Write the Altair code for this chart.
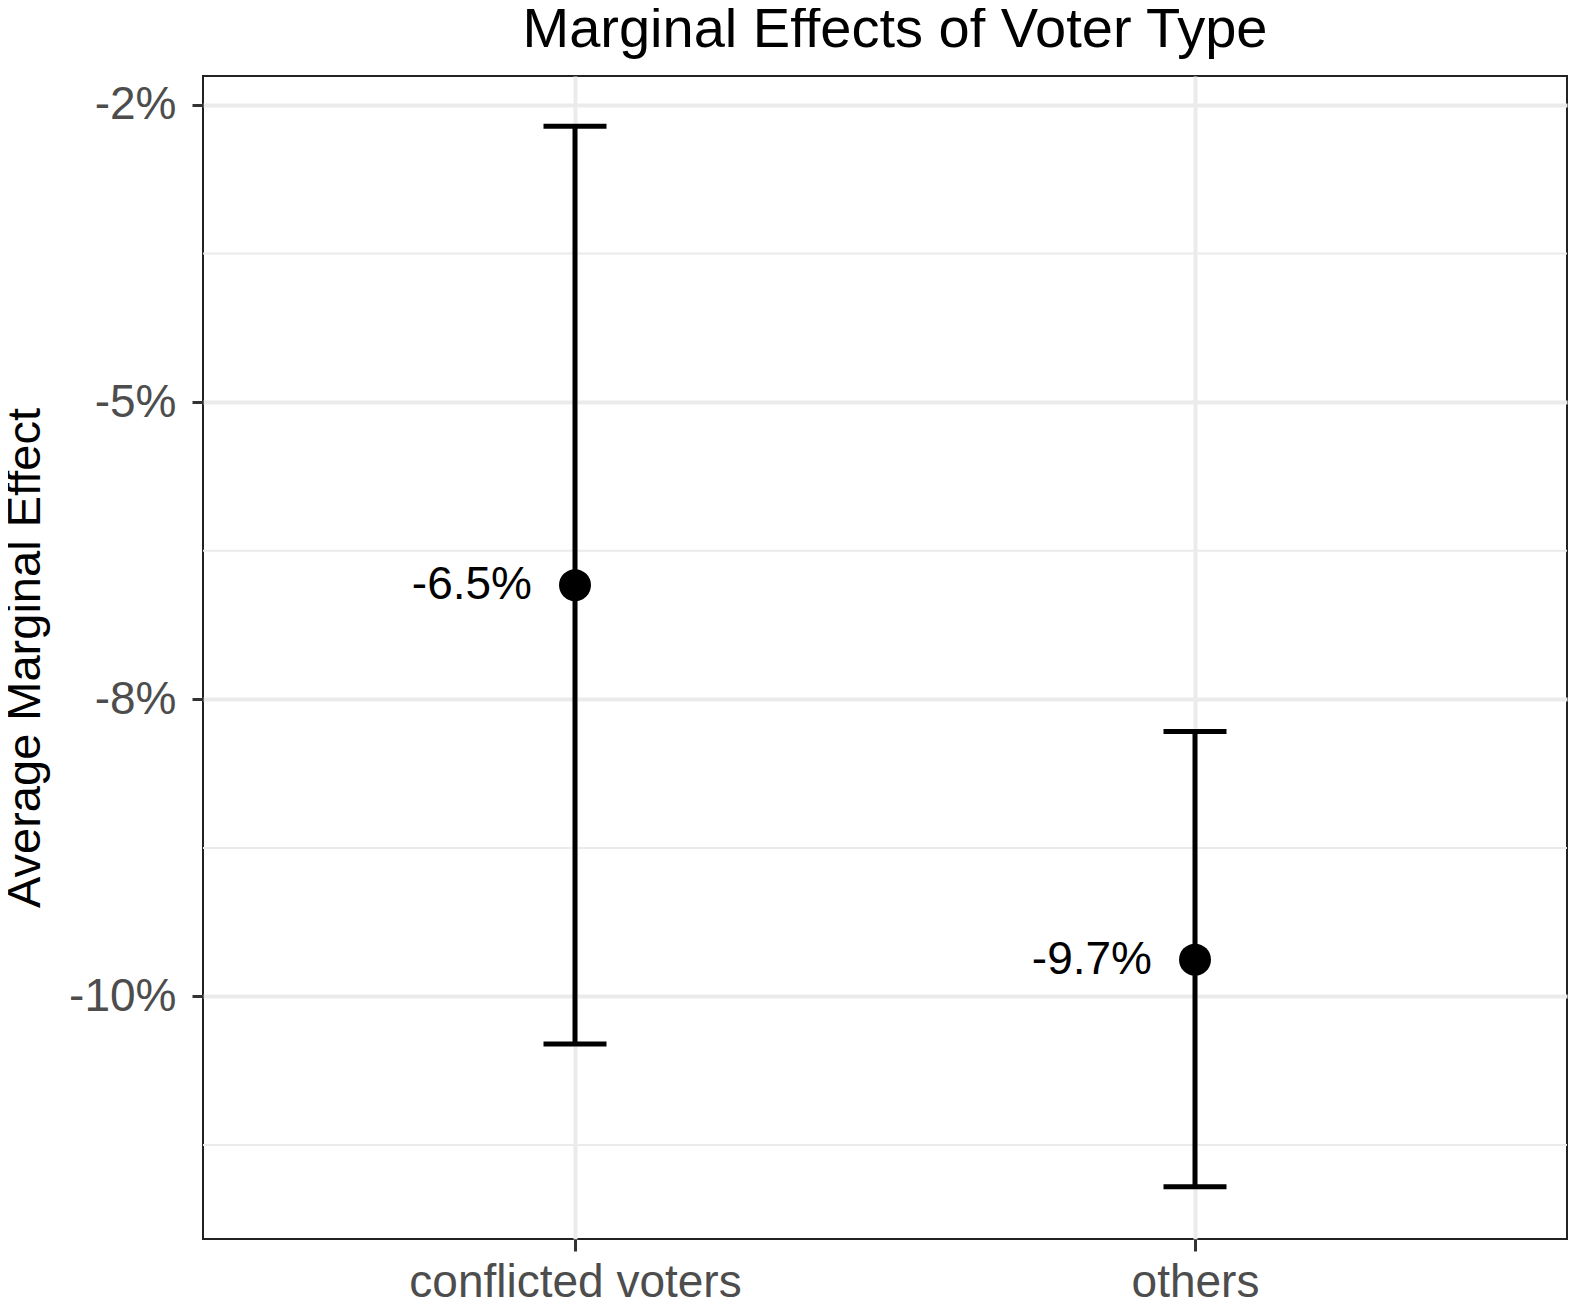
import altair as alt
import pandas as pd

# values, in percent
voter_types = ["conflicted voters", "others"]
estimates = [-6.54, -9.69]
lower = [-10.40, -11.60]
upper = [-2.68, -7.77]

tick_values = [-2.5, -5.0, -7.5, -10.0]
tick_labels = ["-2%", "-5%", "-8%", "-10%"]
minor_values = [-3.75, -6.25, -8.75, -11.25]

df = pd.DataFrame({
    "type": voter_types,
    "ame": estimates,
    "lo": lower,
    "hi": upper,
    "label": [f"{v:.1f}%" for v in estimates],
})
minor = pd.DataFrame({"v": minor_values})

label_expr = " : ".join(
    f"datum.value == {v} ? '{l}'" for v, l in zip(tick_values, tick_labels)
) + " : ''"

FONT = "Liberation Sans"
y_scale = alt.Scale(domain=[-12.04, -2.257], nice=False, zero=False)
y_axis = alt.Axis(
    values=tick_values, labelExpr=label_expr, grid=True, gridColor="#ebebeb",
    gridWidth=4, domain=False, tickColor="#333333", tickWidth=3, tickSize=11,
    labelFontSize=46, labelColor="#4d4d4d", labelPadding=16,
    titleFontSize=47, titleColor="#000000", titleFontWeight="normal", titlePadding=19,
)
x_enc = alt.X(
    "type:N", sort=voter_types, title=None,
    scale=alt.Scale(type="point", padding=0.6),
    axis=alt.Axis(
        grid=True, gridColor="#ebebeb", gridWidth=4, domain=False,
        tickColor="#333333", tickWidth=3, tickSize=12, labelAngle=0, labelLimit=0,
        labelFontSize=46, labelColor="#4d4d4d", labelPadding=9,
    ),
)
Y_TITLE = "Average Marginal Effect"


def y_enc(field):
    return alt.Y(field, scale=y_scale, axis=y_axis, title=Y_TITLE)


minor_grid = alt.Chart(minor).mark_rule(color="#ebebeb", strokeWidth=2).encode(
    y=y_enc("v:Q")
)

base = alt.Chart(df)

bars = base.mark_rule(color="black", strokeWidth=5).encode(
    x=x_enc, y=y_enc("lo:Q"), y2="hi:Q"
)
cap_lo = base.mark_tick(color="black", size=63, thickness=5, opacity=1).encode(
    x=x_enc, y=y_enc("lo:Q")
)
cap_hi = base.mark_tick(color="black", size=63, thickness=5, opacity=1).encode(
    x=x_enc, y=y_enc("hi:Q")
)
points = base.mark_circle(color="black", size=1020, opacity=1).encode(
    x=x_enc, y=y_enc("ame:Q")
)
labels = base.mark_text(
    align="right", baseline="middle", dx=-43, fontSize=46, color="black", font=FONT
).encode(x=x_enc, y=y_enc("ame:Q"), text="label:N")

chart = alt.layer(minor_grid, bars, cap_lo, cap_hi, points, labels).properties(
    width=1364,
    height=1163,
    padding={"left": -7, "top": -6, "right": 0, "bottom": 0},
    title=alt.TitleParams(
        "Marginal Effects of Voter Type", fontSize=56, fontWeight="normal",
        color="black", font=FONT, anchor="middle", frame="group", offset=17, dx=10,
    ),
).configure(
    font=FONT, background="white"
).configure_view(
    stroke="#222222", strokeWidth=2
)

chart.save("out.html", embed_options={"renderer": "svg", "actions": False})
